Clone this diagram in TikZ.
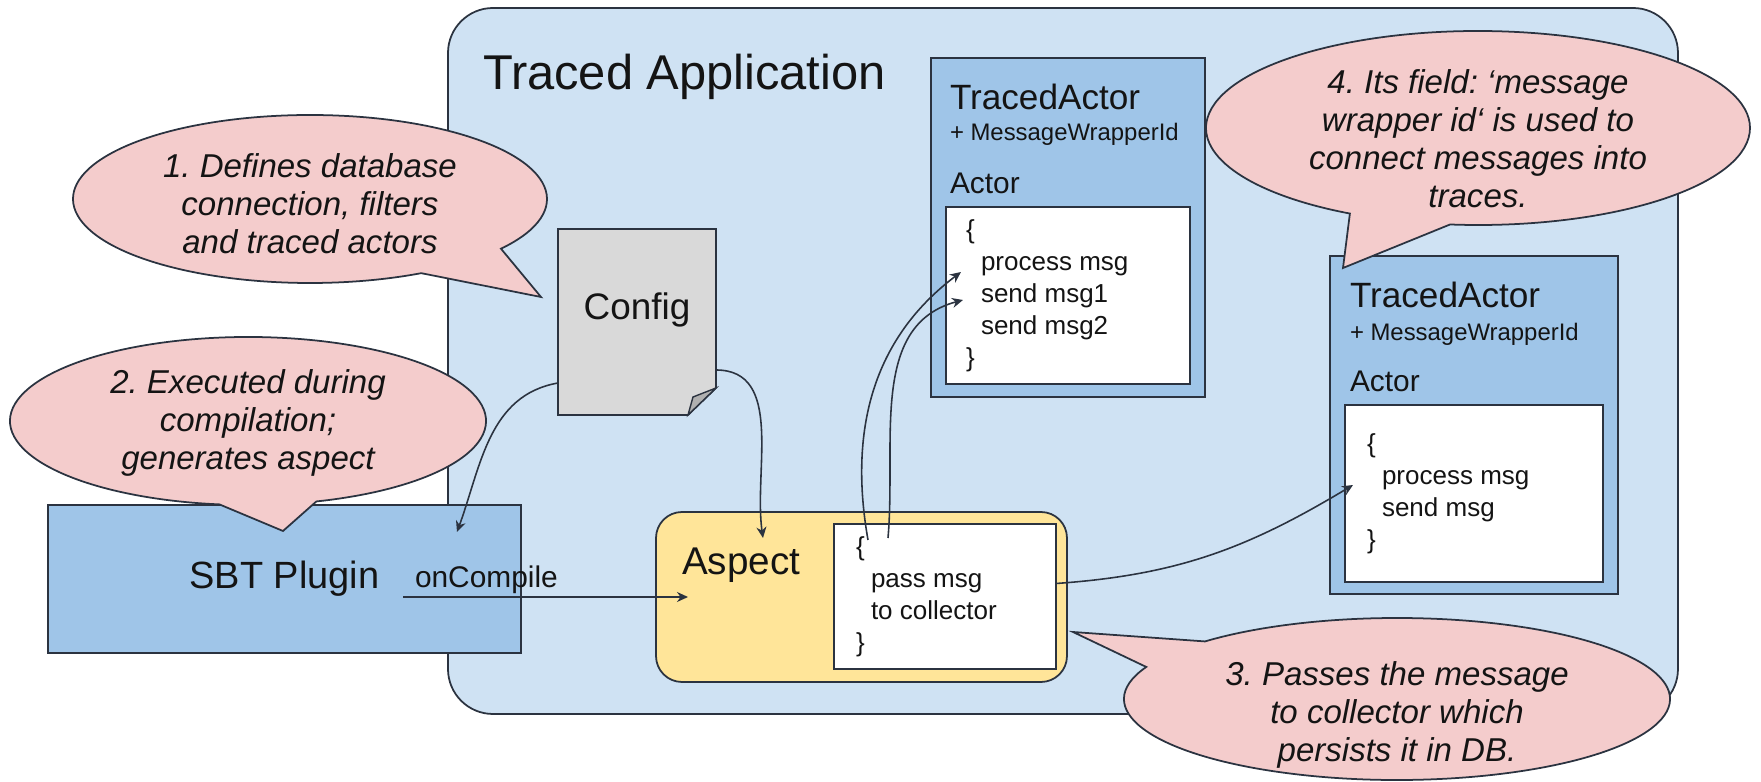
\documentclass[tikz,border=0pt]{standalone}
\usepackage{fontspec}
\setmainfont{Liberation Sans}
\usetikzlibrary{arrows.meta,positioning}

\definecolor{appblue}{HTML}{CFE2F3}
\definecolor{boxblue}{HTML}{9FC5E8}
\definecolor{aspyellow}{HTML}{FFE599}
\definecolor{notepink}{HTML}{F4CCCC}
\definecolor{cfggray}{HTML}{D9D9D9}
\definecolor{flapgray}{HTML}{B0B0B0}
\definecolor{edge}{HTML}{2B3340}
\definecolor{ink}{HTML}{141414}

\newcommand{\fsz}[2]{\fontsize{#1}{#2}\selectfont}
\newcommand{\ind}{\hspace*{1.5mm}}
\frenchspacing

\begin{document}
\begin{tikzpicture}[
  x=0.1mm, y=-0.1mm,
  every node/.style={text=ink, inner sep=0pt, outer sep=0pt},
  panel/.style={draw=edge, line width=0.5pt, anchor=north west},
  appbox/.style={panel, fill=appblue, rounded corners=4.5mm},
  actorbox/.style={panel, fill=boxblue},
  codebox/.style={panel, fill=white},
  aspectbox/.style={panel, fill=aspyellow, rounded corners=2.6mm},
  actorname/.style={anchor=base west, font=\fsz{10}{12}},
  fieldname/.style={anchor=base west, font=\fsz{6.8}{8}},
  actorlabel/.style={anchor=base west, font=\fsz{8.5}{10}},
  codetext/.style={anchor=west, align=left, font=\fsz{7.4}{9.1}},
  speech/.style={draw=edge, fill=notepink, line width=0.5pt},
  notetext/.style={align=center, font=\fsz{9.4}{10.8}\itshape},
  arrow/.style={draw=edge, line width=0.45pt, -{Stealth[length=1.1mm, width=1mm]}}
]
\useasboundingbox (0,0) rectangle (1761,782);

% application frame
\node[appbox, minimum width=123mm, minimum height=70.6mm] (app) at (448,8) {};
\node[anchor=base west, font=\fsz{13.9}{16}] (apptitle) at (483,90) {Traced Application};

% traced actors
\node[actorbox, minimum width=27.4mm, minimum height=33.9mm] (ta1) at (931,58) {};
\node[actorname] (ta1name) at (950,110) {TracedActor};
\node[fieldname] (ta1field) at (950,141) {+ MessageWrapperId};
\node[actorlabel] (ta1label) at (950,194) {Actor};
\node[codebox, minimum width=24.4mm, minimum height=17.7mm] (ta1code) at (946,207) {};
\node[codetext] (ta1body) at ([xshift=2mm]ta1code.west)
  {\{\\\ind process msg\\\ind send msg1\\\ind send msg2\\\}};

\node[actorbox, minimum width=28.8mm, minimum height=33.8mm] (ta2) at (1330,256) {};
\node[actorname] (ta2name) at (1350,308) {TracedActor};
\node[fieldname] (ta2field) at (1350,341) {+ MessageWrapperId};
\node[actorlabel] (ta2label) at (1350,392) {Actor};
\node[codebox, minimum width=25.8mm, minimum height=17.7mm] (ta2code) at (1345,405) {};
\node[codetext] (ta2body) at ([xshift=2.2mm]ta2code.west)
  {\{\\\ind process msg\\\ind send msg\\\}};

% config file
\node[minimum width=15.8mm, minimum height=18.6mm, anchor=north west] (cfg) at (558,229) {};
\filldraw[draw=edge, line width=0.5pt, fill=cfggray] (cfg.north west) -- (cfg.north east)
  -- ([yshift=2.7mm]cfg.south east) -- ([xshift=-2.8mm]cfg.south east) -- (cfg.south west) -- cycle;
\filldraw[draw=edge, line width=0.4pt, fill=flapgray] ([yshift=2.7mm]cfg.south east)
  -- ([xshift=-2.3mm, yshift=1.8mm]cfg.south east) -- ([xshift=-2.8mm]cfg.south east) -- cycle;
\node[font=\fsz{10.5}{12}] (cfgname) at ([yshift=1.2mm]cfg.center) {Config};

% aspect
\node[aspectbox, minimum width=41.1mm, minimum height=17mm] (asp) at (656,512) {};
\node[anchor=base west, font=\fsz{11}{13}] (aspname) at (682,575) {Aspect};
\node[codebox, minimum width=22.2mm, minimum height=14.5mm] (aspcode) at (834,524) {};
\node[codetext] (aspbody) at ([xshift=2.2mm]aspcode.west)
  {\{\\\ind pass msg\\\ind to collector\\\}};

% sbt plugin
\node[actorbox, minimum width=47.3mm, minimum height=14.8mm, font=\fsz{10.8}{13}] (sbt) at (48,505) {SBT Plugin};
\node[anchor=base west, font=\fsz{8.5}{10}] (oncompile) at (415,588) {onCompile};
\coordinate (oncstart) at (403,597);

% connectors
\draw[arrow] ([yshift=3.2mm]cfg.south west) to[out=190, in=70] ([xshift=-6.4mm, yshift=-2.7mm]sbt.north east);
\draw[arrow] ([yshift=4.5mm]cfg.south east) to[out=0, in=98] ([xshift=10.7mm, yshift=-2.6mm]asp.north west);
\draw[arrow] (oncstart) -- ([xshift=3.2mm]asp.west);
\draw[arrow] ([xshift=3.4mm, yshift=-1.6mm]aspcode.north west) to[out=100, in=217] ([xshift=1.5mm, yshift=-6.5mm]ta1code.north west);
\draw[arrow] ([xshift=5.4mm, yshift=-1.4mm]aspcode.north west) to[out=85, in=195] ([xshift=1.7mm, yshift=-9.3mm]ta1code.north west);
\draw[arrow] ([yshift=1.3mm]aspcode.east) to[out=4, in=211] ([xshift=0.8mm, yshift=-8mm]ta2code.north west);

% speech bubbles
\coordinate (n1c) at (310,199);
\draw[speech] ([shift={(-36.3:23.7mm and 8.4mm)}]n1c) arc[start angle=-36.3, end angle=298, x radius=23.7mm, y radius=8.4mm] -- (541,297) -- cycle;
\node[notetext] (note1) at ([yshift=-0.5mm]n1c) {1. Defines database\\connection, filters\\and traced actors};

\coordinate (n2c) at (248,421);
\draw[speech] ([shift={(-73.3:23.8mm and 8.4mm)}]n2c) arc[start angle=-73.3, end angle=263.1, x radius=23.8mm, y radius=8.4mm] -- (283,531) -- cycle;
\node[notetext] (note2) at ([yshift=-0.2mm]n2c) {2. Executed during\\compilation;\\generates aspect};

\coordinate (n3c) at (1397,699);
\draw[speech] ([shift={(156.7:27.3mm and 8.1mm)}]n3c) arc[start angle=156.7, end angle=494.7, x radius=27.3mm, y radius=8.1mm] -- (1073,632) -- cycle;
\node[notetext] (note3) at ([yshift=-1.6mm]n3c) {3. Passes the message\\to collector which\\persists it in DB.};

\coordinate (n4c) at (1478,128);
\draw[speech] ([shift={(-95.9:27.2mm and 9.7mm)}]n4c) arc[start angle=-95.9, end angle=241.9, x radius=27.2mm, y radius=9.7mm] -- (1343,268) -- cycle;
\node[notetext] (note4) at ([yshift=-1.1mm]n4c) {4. Its field: `message\\wrapper id` is used to\\connect messages into\\traces.};
\end{tikzpicture}
\end{document}
